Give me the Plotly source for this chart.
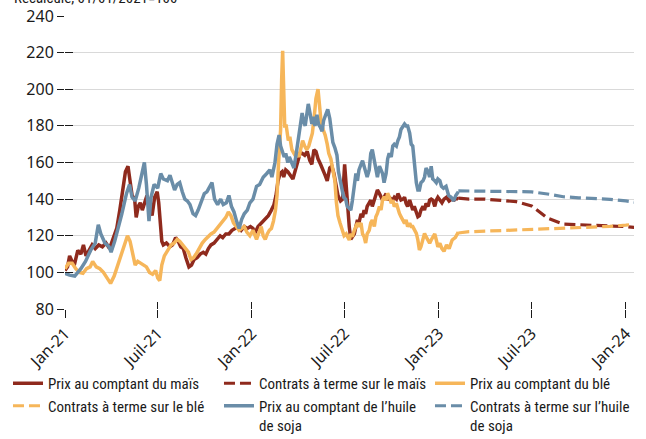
import plotly.graph_objects as go

# ---------------- data ----------------
soy_spot_dates = ["2021-01-01","2021-01-10","2021-01-20","2021-02-01","2021-02-10","2021-02-20","2021-03-01","2021-03-07","2021-03-12","2021-03-20","2021-03-28","2021-04-01","2021-04-08","2021-04-15","2021-04-22","2021-05-01","2021-05-07","2021-05-12","2021-05-18","2021-05-25","2021-06-01","2021-06-05","2021-06-09","2021-06-14","2021-06-18","2021-06-24","2021-07-01","2021-07-07","2021-07-12","2021-07-20","2021-07-25","2021-07-30","2021-08-03","2021-08-08","2021-08-13","2021-08-18","2021-08-23","2021-08-28","2021-09-02","2021-09-08","2021-09-13","2021-09-18","2021-09-24","2021-09-30","2021-10-05","2021-10-10","2021-10-15","2021-10-20","2021-10-26","2021-11-01","2021-11-06","2021-11-12","2021-11-17","2021-11-22","2021-11-27","2021-12-02","2021-12-07","2021-12-12","2021-12-17","2021-12-23","2021-12-28","2022-01-03","2022-01-10","2022-01-16","2022-01-23","2022-01-30","2022-02-05","2022-02-09","2022-02-15","2022-02-19","2022-02-23","2022-02-26","2022-03-01","2022-03-05","2022-03-08","2022-03-12","2022-03-15","2022-03-20","2022-03-24","2022-03-28","2022-04-01","2022-04-06","2022-04-09","2022-04-12","2022-04-15","2022-04-19","2022-04-21","2022-04-25","2022-04-28","2022-05-01","2022-05-04","2022-05-08","2022-05-11","2022-05-15","2022-05-18","2022-05-21","2022-05-25","2022-05-29","2022-06-02","2022-06-05","2022-06-08","2022-06-12","2022-06-16","2022-06-19","2022-06-23","2022-06-26","2022-06-29","2022-07-03","2022-07-06","2022-07-10","2022-07-13","2022-07-16","2022-07-20","2022-07-23","2022-07-26","2022-07-29","2022-08-02","2022-08-05","2022-08-08","2022-08-11","2022-08-14","2022-08-18","2022-08-21","2022-08-24","2022-08-28","2022-08-31","2022-09-03","2022-09-07","2022-09-10","2022-09-13","2022-09-16","2022-09-20","2022-09-23","2022-09-26","2022-09-30","2022-10-03","2022-10-06","2022-10-10","2022-10-13","2022-10-16","2022-10-19","2022-10-23","2022-10-26","2022-10-29","2022-11-01","2022-11-05","2022-11-08","2022-11-11","2022-11-14","2022-11-18","2022-11-21","2022-11-24","2022-11-27","2022-12-01","2022-12-04","2022-12-07","2022-12-11","2022-12-14","2022-12-17","2022-12-20","2022-12-24","2022-12-27","2022-12-30","2023-01-03","2023-01-06","2023-01-10","2023-01-15","2023-01-20","2023-01-25","2023-01-30","2023-02-03","2023-02-08"]
soy_spot = [99.5,98.5,98,102,106,112,116,126,121,116,114,111,117,124,132,143,148,141,139,146,155,160,148,128,141,148,146,154,151,150,153,149,145,148,149,144,140,139,137,132,131,134,138,143,144,147,149,140,137,140,137,138,142,136,133,128,124,129,132,134,138,140,147,148,152,154,156,152,160,170,175,169,166,163,165,160,163,160,157,164,172,182,187,182,180,188,192,186,181,185,180,186,181,179,177,183,186,189,184,178,171,168,164,155,149,145,141,140,136,135,134,139,148,154,150,156,159,161,158,154,152,156,165,167,161,154,152,158,156,154,149,154,162,165,163,169,170,169,172,174,178,180,181,180,180,176,170,169,158,149,145,145,149,150,152,157,155,152,158,151,150,149,151,150,147,146,147,142,141,139,142,144]

corn_spot_dates = ["2021-01-01","2021-01-06","2021-01-10","2021-01-15","2021-01-20","2021-01-26","2021-02-01","2021-02-06","2021-02-11","2021-02-17","2021-02-23","2021-03-01","2021-03-08","2021-03-15","2021-03-22","2021-03-29","2021-04-05","2021-04-12","2021-04-18","2021-04-24","2021-04-29","2021-05-04","2021-05-08","2021-05-12","2021-05-17","2021-05-20","2021-05-24","2021-05-28","2021-06-01","2021-06-05","2021-06-10","2021-06-15","2021-06-20","2021-06-25","2021-06-30","2021-07-03","2021-07-06","2021-07-09","2021-07-12","2021-07-18","2021-07-25","2021-07-30","2021-08-05","2021-08-10","2021-08-15","2021-08-20","2021-08-25","2021-08-31","2021-09-05","2021-09-10","2021-09-16","2021-09-22","2021-09-28","2021-10-03","2021-10-08","2021-10-13","2021-10-19","2021-10-25","2021-10-31","2021-11-05","2021-11-11","2021-11-17","2021-11-23","2021-11-29","2021-12-05","2021-12-11","2021-12-17","2021-12-23","2021-12-29","2022-01-03","2022-01-07","2022-01-13","2022-01-20","2022-01-26","2022-02-02","2022-02-08","2022-02-13","2022-02-17","2022-02-21","2022-02-25","2022-03-01","2022-03-04","2022-03-08","2022-03-12","2022-03-17","2022-03-22","2022-03-27","2022-03-31","2022-04-05","2022-04-09","2022-04-14","2022-04-19","2022-04-24","2022-04-28","2022-05-02","2022-05-06","2022-05-10","2022-05-15","2022-05-20","2022-05-24","2022-05-28","2022-06-02","2022-06-06","2022-06-10","2022-06-14","2022-06-18","2022-06-23","2022-06-27","2022-07-01","2022-07-04","2022-07-07","2022-07-10","2022-07-13","2022-07-16","2022-07-20","2022-07-23","2022-07-26","2022-07-29","2022-08-02","2022-08-05","2022-08-08","2022-08-11","2022-08-14","2022-08-18","2022-08-21","2022-08-24","2022-08-28","2022-08-31","2022-09-03","2022-09-07","2022-09-10","2022-09-13","2022-09-16","2022-09-20","2022-09-23","2022-09-26","2022-09-30","2022-10-03","2022-10-06","2022-10-10","2022-10-13","2022-10-16","2022-10-19","2022-10-23","2022-10-26","2022-10-29","2022-11-01","2022-11-05","2022-11-08","2022-11-11","2022-11-14","2022-11-18","2022-11-21","2022-11-24","2022-11-27","2022-12-01","2022-12-04","2022-12-07","2022-12-11","2022-12-14","2022-12-17","2022-12-20","2022-12-24","2022-12-27","2022-12-30","2023-01-03","2023-01-07","2023-01-11","2023-01-16","2023-01-21","2023-01-26","2023-01-31","2023-02-04","2023-02-08"]
corn_spot = [101,103,109,106,105,112,110,115,109,112,115,113,115,114,116,113,118,124,134,145,155,158,150,142,140,130,136,138,134,138,142,138,131,141,144,138,124,117,115,116,114,115,119,117,114,113,108,103,104,107,108,110,111,110,113,115,116,118,120,119,121,121,123,124,125,123,125,124,125,124,121.5,125,127,129,131,134,137,142,150,154,155,152,156,155,153,151,156,160,165,165,164,166,161,159,167,166,162,159,156,153,150,157,158,154,148,142,139,140,159,146,134,125,118,119.5,121,125,128.6,127,132,130,134,132,136,138,139.5,136,139.5,141,145,143,141,139.5,141,143,139.5,141,140,139.5,141,140,143,141,139.5,140,141,137.7,136,139.5,136,134,136,132,130.4,131,134,136,134,137.7,136,139.5,140,139.5,136,139.5,141,139.5,138,140,141,139,140,139.5,140.5,140]

wheat_spot_dates = ["2021-01-01","2021-01-08","2021-01-15","2021-01-22","2021-01-29","2021-02-05","2021-02-12","2021-02-19","2021-02-24","2021-03-03","2021-03-10","2021-03-17","2021-03-24","2021-03-31","2021-04-07","2021-04-14","2021-04-21","2021-04-28","2021-05-03","2021-05-08","2021-05-13","2021-05-18","2021-05-23","2021-05-29","2021-06-03","2021-06-09","2021-06-15","2021-06-21","2021-06-27","2021-07-01","2021-07-05","2021-07-09","2021-07-14","2021-07-20","2021-07-27","2021-08-02","2021-08-08","2021-08-13","2021-08-19","2021-08-25","2021-08-30","2021-09-04","2021-09-09","2021-09-14","2021-09-20","2021-09-26","2021-10-02","2021-10-08","2021-10-13","2021-10-19","2021-10-25","2021-10-31","2021-11-06","2021-11-11","2021-11-16","2021-11-21","2021-11-26","2021-12-02","2021-12-07","2021-12-12","2021-12-17","2021-12-22","2021-12-28","2022-01-03","2022-01-10","2022-01-15","2022-01-19","2022-01-23","2022-01-27","2022-01-31","2022-02-04","2022-02-08","2022-02-12","2022-02-16","2022-02-19","2022-02-22","2022-02-26","2022-02-28","2022-03-02","2022-03-04","2022-03-06","2022-03-09","2022-03-13","2022-03-16","2022-03-20","2022-03-24","2022-03-28","2022-03-31","2022-04-03","2022-04-06","2022-04-10","2022-04-14","2022-04-18","2022-04-22","2022-04-25","2022-04-29","2022-05-03","2022-05-06","2022-05-10","2022-05-13","2022-05-16","2022-05-20","2022-05-24","2022-05-28","2022-05-31","2022-06-04","2022-06-08","2022-06-12","2022-06-15","2022-06-18","2022-06-22","2022-06-26","2022-06-30","2022-07-04","2022-07-07","2022-07-10","2022-07-13","2022-07-16","2022-07-20","2022-07-23","2022-07-26","2022-07-29","2022-08-02","2022-08-05","2022-08-08","2022-08-11","2022-08-14","2022-08-18","2022-08-21","2022-08-24","2022-08-28","2022-08-31","2022-09-03","2022-09-07","2022-09-10","2022-09-13","2022-09-16","2022-09-20","2022-09-23","2022-09-26","2022-09-30","2022-10-03","2022-10-06","2022-10-10","2022-10-13","2022-10-16","2022-10-19","2022-10-23","2022-10-26","2022-10-29","2022-11-01","2022-11-05","2022-11-08","2022-11-11","2022-11-14","2022-11-18","2022-11-21","2022-11-24","2022-11-27","2022-12-01","2022-12-04","2022-12-07","2022-12-11","2022-12-14","2022-12-17","2022-12-20","2022-12-24","2022-12-27","2022-12-30","2023-01-03","2023-01-07","2023-01-11","2023-01-16","2023-01-21","2023-01-27","2023-02-02","2023-02-08"]
wheat_spot = [102,105,105,102,100,99.5,102,103,106,103,102,100,97,94,98,104,111,116,120,117,110,104,106,105,104,103,100,99,101,97,95.5,104,109,112,115,116,118,117,115,113,111,107,108,110,113,116,118,120,121,122,124,126,128,130,133,131,127,125,123,124,125,122,120,123,118,122,125,120,118,121,123,124,128,134,142,160,178,205,221,200,180,180,172,174,167,165,163,165,163,167,172,169,167,169,172,176,186,195,200,188,182,178,175,170,165,162,156,150,138,131,127,123,120,121,119.5,117.7,121,119.5,123,125,127,125,127,121,119.5,116,121,123,127,128.6,125,130.4,132.2,135.9,134,139.5,141.3,139.5,143.2,141.3,137.7,139.5,135.9,137.7,134,132.2,130.4,128.6,126.8,128.6,125,126.8,125,125,123.1,121.3,117.7,112.2,114,117.7,121.3,119.5,117.7,115.9,117.7,119.5,121,117.7,114,115.9,113,111.5,115,113,117.7,119,122]

futures_dates = ["2023-02-08","2023-03-01","2023-04-01","2023-05-01","2023-06-01","2023-07-01","2023-08-01","2023-09-01","2023-10-01","2023-11-01","2023-12-01","2024-01-01","2024-01-22"]
corn_futures = [140.5,140.0,140.0,139.2,138.6,136.3,129.6,126.4,125.9,125.7,125.3,125.0,124.5]
wheat_futures = [121.5,122.2,122.5,122.8,123.0,123.2,123.5,123.9,124.3,124.7,125.1,125.8,126.5]
soy_futures = [144.5,144.4,144.4,144.4,144.3,144.0,142.8,141.3,140.7,140.3,139.9,139.0,138.2]

tick_vals = ["2021-01-01","2021-07-01","2022-01-01","2022-07-01","2023-01-01","2023-07-01","2024-01-01"]
tick_text = ["Jan-21","Juil-21","Jan-22","Juil-22","Jan-23","Juil-23","Jan-24"]
y_ticks = [80,100,120,140,160,180,200,220,240]

names = ["Prix au comptant du maïs", "Contrats à terme sur le maïs", "Prix au comptant du blé",
         "Contrats à terme sur le blé", "Prix au comptant de l\u2019huile<br>de soja",
         "Contrats à terme sur l\u2019huile<br>de soja"]

# ---------------- style ----------------
RED = "#8F2A1D"
ORANGE = "#F6B65A"
BLUE = "#6A8DA8"
X_RANGE = ["2021-01-01", "2024-01-17"]
Y_RANGE = [80, 240]
TICK_FONT = dict(family="Noto Sans, DejaVu Sans, sans-serif", size=16, color="#1a1a1a")
LEG_FONT = dict(family="Liberation Sans Narrow, Roboto Condensed, Liberation Sans, sans-serif", size=15, color="#1a1a1a")

fig = go.Figure()
fig.add_trace(go.Scatter(x=corn_spot_dates, y=corn_spot, mode="lines", name=names[0],
                         line=dict(color=RED, width=3.5)))
fig.add_trace(go.Scatter(x=futures_dates, y=corn_futures, mode="lines", name=names[1],
                         line=dict(color=RED, width=3.2, dash="11px,5px")))
fig.add_trace(go.Scatter(x=wheat_spot_dates, y=wheat_spot, mode="lines", name=names[2],
                         line=dict(color=ORANGE, width=3.5)))
fig.add_trace(go.Scatter(x=futures_dates, y=wheat_futures, mode="lines", name=names[3],
                         line=dict(color=ORANGE, width=3.2, dash="11px,5px")))
fig.add_trace(go.Scatter(x=soy_spot_dates, y=soy_spot, mode="lines", name=names[4],
                         line=dict(color=BLUE, width=3.5)))
fig.add_trace(go.Scatter(x=futures_dates, y=soy_futures, mode="lines", name=names[5],
                         line=dict(color=BLUE, width=3.2, dash="11px,5px")))
# empty helper trace on overlay axes (for inner tick halves)
fig.add_trace(go.Scatter(x=[], y=[], xaxis="x2", yaxis="y2", showlegend=False, hoverinfo="skip"))

fig.update_layout(
    width=646, height=439,
    margin=dict(l=65, r=12, t=16, b=130, autoexpand=False),
    paper_bgcolor="white", plot_bgcolor="white",
    showlegend=True,
    xaxis=dict(type="date", range=X_RANGE, tickvals=tick_vals, ticktext=tick_text,
               tickangle=-45, tickfont=TICK_FONT, ticks="outside", ticklen=8, tickwidth=1,
               tickcolor="#1a1a1a", showgrid=False, showline=False, zeroline=False,
               automargin=False),
    yaxis=dict(range=Y_RANGE, tickvals=y_ticks, tickfont=TICK_FONT, ticks="outside",
               ticklen=7, tickwidth=1, tickcolor="#1a1a1a", showgrid=True,
               gridcolor="#d9d9d9", gridwidth=1, showline=False, zeroline=False,
               automargin=False),
    xaxis2=dict(type="date", overlaying="x", anchor="y2", range=X_RANGE, tickvals=tick_vals,
                showticklabels=False, ticks="inside", ticklen=7, tickwidth=1,
                tickcolor="#1a1a1a", showgrid=False, showline=False, zeroline=False,
                automargin=False),
    yaxis2=dict(overlaying="y", anchor="x2", side="left", range=Y_RANGE, tickvals=y_ticks,
                showticklabels=False, ticks="inside", ticklen=8, tickwidth=1,
                tickcolor="#1a1a1a", showgrid=False, showline=False, zeroline=False,
                automargin=False),
    legend=dict(orientation="h", x=-0.1002, xanchor="left", y=-0.198, yanchor="top",
                entrywidth=166, entrywidthmode="pixels", font=LEG_FONT,
                valign="top", tracegroupgap=0, itemwidth=30, bgcolor="rgba(0,0,0,0)"),
    annotations=[dict(text="Recalculé, 01/01/2021=100", xref="paper", yref="paper",
                      x=-0.093, y=1.024, xanchor="left", yanchor="bottom", showarrow=False,
                      font=LEG_FONT)],
)

fig.write_html("out.html", config={"displayModeBar": False},
               post_script="document.body.style.margin='0';")
